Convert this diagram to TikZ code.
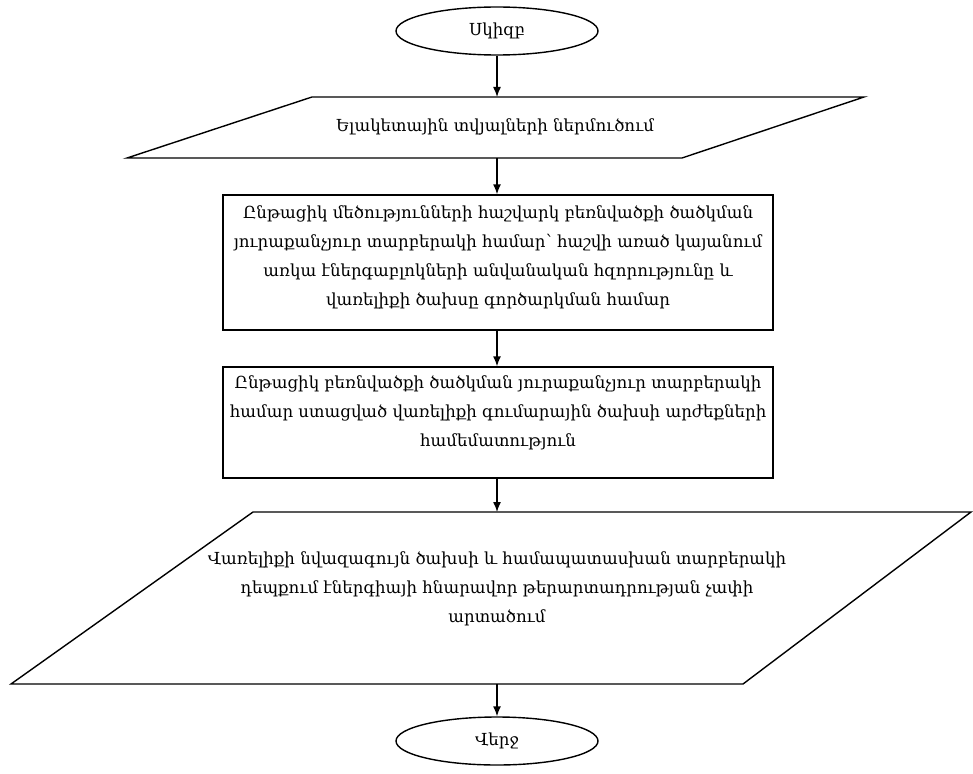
\documentclass[tikz,border=0pt]{standalone}
\usepackage{fontspec}
\setmainfont{DejaVu Serif}
\usetikzlibrary{shapes.geometric, arrows.meta}

\begin{document}
\begin{tikzpicture}[x=1pt, y=-1pt, >={Latex[length=10pt,width=8pt]}, line width=1.4pt,
  txt/.style={align=center, font=\fontsize{16.6}{29}\selectfont},
  terminal/.style={draw, ellipse, minimum width=202pt, minimum height=48pt, inner sep=0pt, txt},
  procbox/.style={draw, rectangle, minimum width=550pt, inner sep=0pt}]
  \useasboundingbox (0,0) rectangle (973,773);
  % Start
  \node[terminal] (start) at (497,31) {Սկիզբ};
  % Input data
  \coordinate (in-tl) at (312,97);
  \coordinate (in-tr) at (864,97);
  \coordinate (in-br) at (682,158);
  \coordinate (in-bl) at (127,158);
  \coordinate (in-top) at (497,97);
  \coordinate (in-bot) at (497,158);
  \draw (in-tl) -- (in-tr) -- (in-br) -- (in-bl) -- cycle;
  \node[txt] (in) at (495,127) {Ելակետային տվյալների ներմուծում};
  % Calculation
  \node[procbox, minimum height=135pt] (calc) at (498,262.5) {};
  \node[txt] (calctext) at (498,257) {Ընթացիկ մեծությունների հաշվարկ բեռնվածքի ծածկման\\
    յուրաքանչյուր տարբերակի համար՝ հաշվի առած կայանում\\
    առկա էներգաբլոկների անվանական հզորությունը և\\
    վառելիքի ծախսը գործարկման համար};
  % Comparison
  \node[procbox, minimum height=111pt] (cmp) at (498,422.5) {};
  \node[txt] (cmptext) at (498,413) {Ընթացիկ բեռնվածքի ծածկման յուրաքանչյուր տարբերակի\\
    համար ստացված վառելիքի գումարային ծախսի արժեքների\\
    համեմատություն};
  % Output
  \coordinate (out-tl) at (253,512);
  \coordinate (out-tr) at (971,512);
  \coordinate (out-br) at (743,684);
  \coordinate (out-bl) at (11,684);
  \coordinate (out-top) at (497,512);
  \coordinate (out-bot) at (497,684);
  \draw (out-tl) -- (out-tr) -- (out-br) -- (out-bl) -- cycle;
  \node[txt] (out) at (497,589) {Վառելիքի նվազագույն ծախսի և համապատասխան տարբերակի\\
    դեպքում էներգիայի հնարավոր թերարտադրության չափի\\
    արտածում};
  % End
  \node[terminal] (end) at (497,741) {Վերջ};
  % Arrows
  \draw[->] (start) -- (in-top);
  \draw[->] (in-bot) -- (in-bot |- calc.north);
  \draw[->] (in-bot |- calc.south) -- (in-bot |- cmp.north);
  \draw[->] (in-bot |- cmp.south) -- (out-top);
  \draw[->] (out-bot) -- (end);
\end{tikzpicture}
\end{document}
